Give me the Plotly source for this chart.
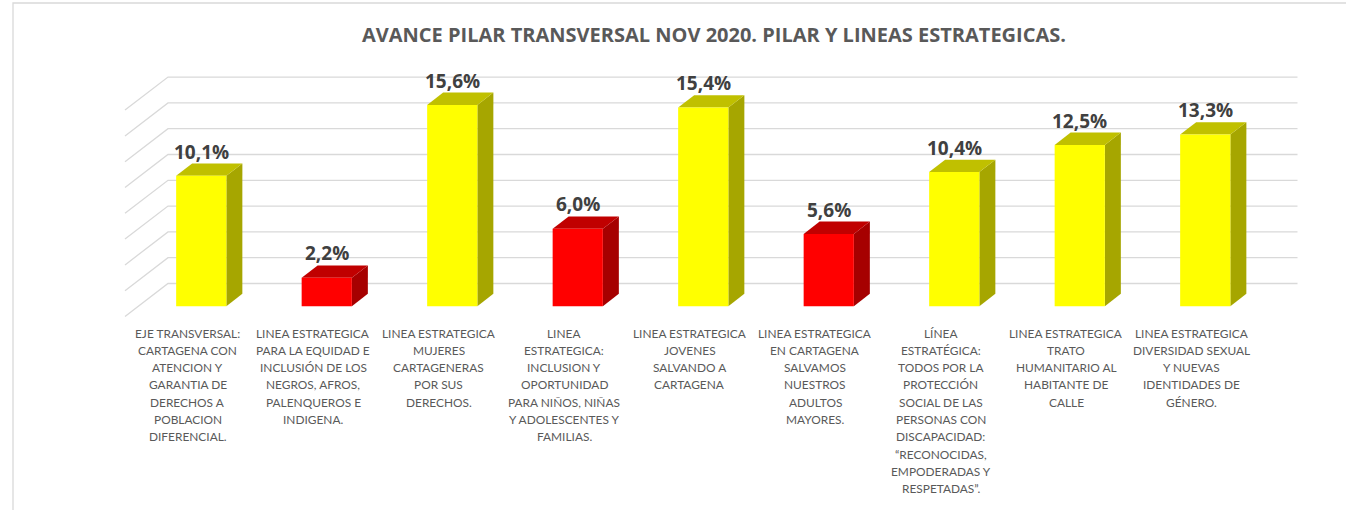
import plotly.graph_objects as go

categorias = [
    "EJE TRANSVERSAL:<br>CARTAGENA CON<br>ATENCION Y<br>GARANTIA DE<br>DERECHOS A<br>POBLACION<br>DIFERENCIAL.",
    "LINEA ESTRATEGICA<br>PARA LA EQUIDAD E<br>INCLUSIÓN DE LOS<br>NEGROS, AFROS,<br>PALENQUEROS E<br>INDIGENA.",
    "LINEA ESTRATEGICA<br>MUJERES<br>CARTAGENERAS<br>POR SUS<br>DERECHOS.",
    "LINEA<br>ESTRATEGICA:<br>INCLUSION Y<br>OPORTUNIDAD<br>PARA NIÑOS, NIÑAS<br>Y ADOLESCENTES Y<br>FAMILIAS.",
    "LINEA ESTRATEGICA<br>JOVENES<br>SALVANDO A<br>CARTAGENA",
    "LINEA ESTRATEGICA<br>EN CARTAGENA<br>SALVAMOS<br>NUESTROS<br>ADULTOS<br>MAYORES.",
    "LÍNEA<br>ESTRATÉGICA:<br>TODOS POR LA<br>PROTECCIÓN<br>SOCIAL DE LAS<br>PERSONAS CON<br>DISCAPACIDAD:<br>“RECONOCIDAS,<br>EMPODERADAS Y<br>RESPETADAS”.",
    "LINEA ESTRATEGICA<br>TRATO<br>HUMANITARIO AL<br>HABITANTE DE<br>CALLE",
    "LINEA ESTRATEGICA<br>DIVERSIDAD SEXUAL<br>Y NUEVAS<br>IDENTIDADES DE<br>GÉNERO.",
]
avance = [10.1, 2.2, 15.6, 6.0, 15.4, 5.6, 10.4, 12.5, 13.3]
estado = ["ok", "bajo", "ok", "bajo", "ok", "bajo", "ok", "ok", "ok"]
grid_vals = [0, 2, 4, 6, 8, 10, 12, 14, 16]

# colores: frente, lado, tapa
paleta = {
    "ok": ("#FFFF00", "#A6A600", "#C0C000"),
    "bajo": ("#FF0000", "#A60000", "#C00000"),
}

# geometria pseudo-3D
W, H = 1346, 510
ML, MR, MT, MB = 120, 41, 60, 192
PX_CAT = 125.5          # px por categoria
PX_VAL = 12.9           # px por punto porcentual
FRONT_LEFT = 125        # px donde empieza el plano frontal
FLOOR = 316.5           # px del piso frontal
DX = 43 / PX_CAT        # profundidad total en unidades x
DY = 33 / PX_VAL        # profundidad total en unidades y
F0, F1 = 0.314, 0.686   # fraccion de profundidad de la barra
BW = 0.40               # ancho barra

x_lo = -0.5 - (FRONT_LEFT - ML) / PX_CAT
x_hi = -0.5 + (W - MR - FRONT_LEFT) / PX_CAT
y_lo = -(H - MB - FLOOR) / PX_VAL
y_hi = (FLOOR - MT) / PX_VAL

fig = go.Figure()
grid_color = "#D9D9D9"
n = len(avance)

# pared del fondo y pared lateral
for g in grid_vals:
    fig.add_trace(go.Scatter(
        x=[-0.5, -0.5 + DX, n - 0.5 + DX], y=[g, g + DY, g + DY],
        mode="lines", line=dict(color=grid_color, width=1.3),
        hoverinfo="skip", showlegend=False))

for i, (v, e) in enumerate(zip(avance, estado)):
    frente, lado, tapa = paleta[e]
    xl0 = i - BW / 2 + DX * F0
    xr0 = i + BW / 2 + DX * F0
    xl1 = i - BW / 2 + DX * F1
    xr1 = i + BW / 2 + DX * F1
    yb0, yb1 = DY * F0, DY * F1
    yt0, yt1 = v + DY * F0, v + DY * F1
    # lado
    fig.add_trace(go.Scatter(
        x=[xr0, xr1, xr1, xr0, xr0], y=[yb0, yb1, yt1, yt0, yb0],
        fill="toself", fillcolor=lado, mode="lines", line=dict(width=0, color=lado),
        hoverinfo="skip", showlegend=False))
    # tapa
    fig.add_trace(go.Scatter(
        x=[xl0, xl1, xr1, xr0, xl0], y=[yt0, yt1, yt1, yt0, yt0],
        fill="toself", fillcolor=tapa, mode="lines", line=dict(width=0, color=tapa),
        hoverinfo="skip", showlegend=False))
    # frente
    fig.add_trace(go.Scatter(
        x=[xl0, xr0, xr0, xl0, xl0], y=[yb0, yb0, yt0, yt0, yb0],
        fill="toself", fillcolor=frente, mode="lines", line=dict(width=0, color=frente),
        hoverinfo="skip", showlegend=False))
    fig.add_annotation(
        x=i + DX * F0, y=yt1, text=f"<b>{v:.1f}%</b>".replace(".", ","),
        showarrow=False, yanchor="bottom", yshift=-3,
        font=dict(family="Open Sans", size=19, color="#404040"))

# etiquetas de categoria, una linea por anotacion para el interlineado
for i, cat in enumerate(categorias):
    for j, linea in enumerate(cat.split("<br>")):
        fig.add_annotation(
            x=i, y=0, text=linea, showarrow=False,
            xanchor="center", yanchor="middle", yshift=-(16.5 + j * 17.3),
            font=dict(family="Lato", size=11.9, color="#595959"))

fig.update_layout(
    width=W, height=H,
    margin=dict(l=ML, r=MR, t=MT, b=MB),
    paper_bgcolor="white", plot_bgcolor="white",
    title=dict(
        text="<b>AVANCE PILAR TRANSVERSAL NOV 2020. PILAR Y LINEAS ESTRATEGICAS.</b>",
        x=714 / W, xanchor="center", xref="container",
        y=1 - 35 / H, yanchor="middle", yref="container",
        font=dict(family="Open Sans", size=20, color="#595959")),
    xaxis=dict(
        range=[x_lo, x_hi], showticklabels=False,
        showgrid=False, zeroline=False, showline=False, ticks="",
        fixedrange=True),
    yaxis=dict(
        range=[y_lo, y_hi], showgrid=False, zeroline=False, showline=False,
        showticklabels=False, ticks="", fixedrange=True),
    shapes=[dict(type="rect", xref="paper", yref="paper",
                 x0=-(ML - 13) / (W - ML - MR), x1=1 + (MR + 20) / (W - ML - MR),
                 y0=-(MB + 20) / (H - MT - MB), y1=1 + (MT - 3) / (H - MT - MB),
                 line=dict(color=grid_color, width=1.3), fillcolor="rgba(0,0,0,0)",
                 layer="below")],
)

fig.write_html("out.html", config={"displayModeBar": False},
               post_script="document.body.style.margin='0';")
